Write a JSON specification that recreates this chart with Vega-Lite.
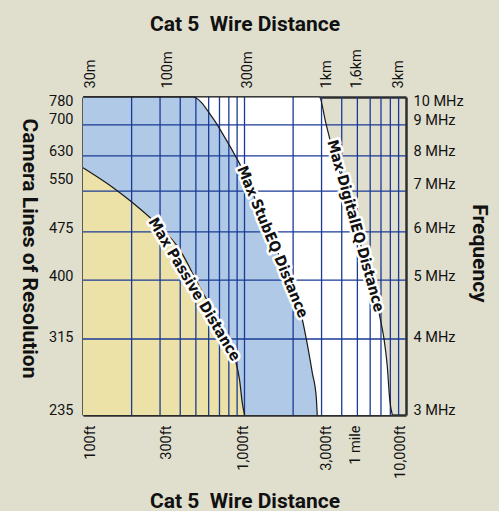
{
  "$schema": "https://vega.github.io/schema/vega-lite/v6.json",
  "autosize": {"type": "none"},
  "width": 323,
  "height": 318,
  "padding": {"left": 83, "top": 97, "right": 93, "bottom": 96},
  "background": "#e0dfce",
  "config": {
    "view": {"fill": "#e0dfce", "stroke": null},
    "axis": {
      "zindex": 1,
      "grid": false,
      "ticks": false,
      "tickSize": 0,
      "domain": true,
      "domainColor": "#2e2e2e",
      "domainWidth": 2.5,
      "labelFont": "Roboto, sans-serif",
      "labelFontSize": 14.5,
      "labelColor": "#111111",
      "labelOverlap": false,
      "labelBound": false,
      "labelFlush": false,
      "titleFont": "Roboto, sans-serif",
      "titleFontSize": 21,
      "titleFontWeight": "bold",
      "titleColor": "#111111"
    }
  },
  "datasets": {
    "curves": [
      {"curve": "Digital", "dist": 100, "freq": 10},
      {"curve": "Digital", "dist": 2904, "freq": 10},
      {"curve": "Digital", "dist": 3192, "freq": 9.05},
      {"curve": "Digital", "dist": 3550, "freq": 8.1},
      {"curve": "Digital", "dist": 4246, "freq": 7.03},
      {"curve": "Digital", "dist": 4892, "freq": 6.12},
      {"curve": "Digital", "dist": 5638, "freq": 5.33},
      {"curve": "Digital", "dist": 6501, "freq": 4.67},
      {"curve": "Digital", "dist": 7013, "freq": 4.25},
      {"curve": "Digital", "dist": 7311, "freq": 4.0},
      {"curve": "Digital", "dist": 7650, "freq": 3.62},
      {"curve": "Digital", "dist": 7930, "freq": 3.18},
      {"curve": "Digital", "dist": 8230, "freq": 3.0},
      {"curve": "Stub", "dist": 100, "freq": 10},
      {"curve": "Stub", "dist": 477, "freq": 10},
      {"curve": "Stub", "dist": 637, "freq": 9.23},
      {"curve": "Stub", "dist": 771, "freq": 8.5},
      {"curve": "Stub", "dist": 892, "freq": 7.94},
      {"curve": "Stub", "dist": 1024, "freq": 7.4},
      {"curve": "Stub", "dist": 1238, "freq": 6.52},
      {"curve": "Stub", "dist": 1495, "freq": 5.82},
      {"curve": "Stub", "dist": 1809, "freq": 5.13},
      {"curve": "Stub", "dist": 2185, "freq": 4.52},
      {"curve": "Stub", "dist": 2415, "freq": 4.0},
      {"curve": "Stub", "dist": 2630, "freq": 3.52},
      {"curve": "Stub", "dist": 2782, "freq": 3.21},
      {"curve": "Stub", "dist": 2820, "freq": 3.0},
      {"curve": "Passive", "dist": 100, "freq": 7.65},
      {"curve": "Passive", "dist": 153, "freq": 7.1},
      {"curve": "Passive", "dist": 203, "freq": 6.7},
      {"curve": "Passive", "dist": 278, "freq": 6.23},
      {"curve": "Passive", "dist": 397, "freq": 5.61},
      {"curve": "Passive", "dist": 527, "freq": 4.87},
      {"curve": "Passive", "dist": 701, "freq": 4.25},
      {"curve": "Passive", "dist": 867, "freq": 3.74},
      {"curve": "Passive", "dist": 933, "freq": 3.42},
      {"curve": "Passive", "dist": 969, "freq": 3.14},
      {"curve": "Passive", "dist": 1000, "freq": 3.0}
    ],
    "vgrid": [
      {"g": 200}, {"g": 300}, {"g": 400}, {"g": 500}, {"g": 600}, {"g": 700}, {"g": 800}, {"g": 900},
      {"g": 1000}, {"g": 2000}, {"g": 3000}, {"g": 4000}, {"g": 5000}, {"g": 6000}, {"g": 7000}, {"g": 8000}, {"g": 9000}
    ],
    "hgrid": [
      {"g": 4}, {"g": 5}, {"g": 6}, {"g": 7}, {"g": 8}, {"g": 9}
    ],
    "labels": [
      {"curve": "Passive", "label": "Max Passive Distance", "dist": 491, "freq": 4.83},
      {"curve": "Stub", "label": "Max StubEQ Distance", "dist": 1495, "freq": 5.78},
      {"curve": "Digital", "label": "Max DigitalEQ Distance", "dist": 4892, "freq": 6.14}
    ]
  },
  "resolve": {"axis": {"x": "independent", "y": "independent"}},
  "layer": [
    {
      "data": {"name": "curves"},
      "transform": [{"filter": "datum.curve == 'Digital'"}],
      "mark": {"type": "area", "color": "#ffffff", "interpolate": "monotone"},
      "encoding": {
        "x": {"field": "dist", "type": "quantitative",
          "scale": {"type": "log", "domain": [100, 10000], "nice": false},
          "axis": {
            "orient": "bottom",
            "values": [100, 300, 1000, 3000, 5280, 10000],
            "labelExpr": "datum.value == 100 ? '100ft' : datum.value == 300 ? '300ft' : datum.value == 1000 ? '1,000ft' : datum.value == 3000 ? '3,000ft' : datum.value == 5280 ? '1 mile' : '10,000ft'",
            "labelAngle": -90,
            "labelPadding": 10,
            "labelOffset": {"condition": [
              {"test": "datum.value == 100", "value": 7},
              {"test": "datum.value == 300", "value": 6},
              {"test": "datum.value == 3000", "value": 5},
              {"test": "datum.value == 5280", "value": -6},
              {"test": "datum.value == 10000", "value": -6}
            ], "value": -1},
            "title": "Cat 5\u00a0 Wire Distance",
            "titleBaseline": "alphabetic",
            "titleY": 92
          }
        },
        "y": {"field": "freq", "type": "quantitative",
          "scale": {"type": "log", "domain": [3, 10], "nice": false},
          "axis": {
            "orient": "left",
            "values": [3, 4, 5, 6, 7, 8, 9, 10],
            "labelExpr": "datum.value == 3 ? '235' : datum.value == 4 ? '315' : datum.value == 5 ? '400' : datum.value == 6 ? '475' : datum.value == 7 ? '550' : datum.value == 8 ? '630' : datum.value == 9 ? '700' : '780'",
            "labelPadding": 10,
            "labelOffset": {"condition": [
              {"test": "datum.value == 10", "value": 4},
              {"test": "datum.value == 9", "value": -5},
              {"test": "datum.value == 7", "value": -12},
              {"test": "datum.value == 6", "value": -3},
              {"test": "datum.value == 4", "value": -2},
              {"test": "datum.value == 3", "value": -5}
            ], "value": -4},
            "title": "Camera Lines of Resolution",
            "titleAngle": 90,
            "titleBaseline": "alphabetic",
            "titleAlign": "center",
            "titleX": -61,
            "titleY": 151
          }
        },
        "y2": {"datum": 3}
      }
    },
    {
      "data": {"name": "curves"},
      "transform": [{"filter": "datum.curve == 'Stub'"}],
      "mark": {"type": "area", "color": "#afc9e7", "interpolate": "monotone"},
      "encoding": {
        "x": {"field": "dist", "type": "quantitative",
          "scale": {"type": "log", "domain": [100, 10000], "nice": false},
          "axis": {
            "orient": "top",
            "values": [100, 328.08, 984.25, 3280.84, 5249.34, 9842.52],
            "labelExpr": "datum.value < 200 ? '30m' : datum.value < 500 ? '100m' : datum.value < 2000 ? '300m' : datum.value < 4000 ? '1km' : datum.value < 7000 ? '1,6km' : '3km'",
            "labelAngle": -90,
            "labelPadding": 9,
            "labelOffset": {"condition": [
              {"test": "datum.value < 200", "value": 7},
              {"test": "datum.value < 500", "value": 1},
              {"test": "datum.value < 2000", "value": 4},
              {"test": "datum.value < 4000", "value": -1},
              {"test": "datum.value < 7000", "value": -4}
            ], "value": -6},
            "title": "Cat 5\u00a0 Wire Distance",
            "titleBaseline": "alphabetic",
            "titleY": -67
          }
        },
        "y": {"field": "freq", "type": "quantitative",
          "scale": {"type": "log", "domain": [3, 10], "nice": false},
          "axis": {
            "orient": "right",
            "values": [3, 4, 5, 6, 7, 8, 9, 10],
            "labelExpr": "datum.value + ' MHz'",
            "labelPadding": 7,
            "labelOffset": {"condition": [
              {"test": "datum.value == 10", "value": 4},
              {"test": "datum.value == 7", "value": -7},
              {"test": "datum.value == 6", "value": -3},
              {"test": "datum.value == 4", "value": -2},
              {"test": "datum.value == 3", "value": -5}
            ], "value": -4},
            "title": "Frequency",
            "titleAngle": 90,
            "titleBaseline": "alphabetic",
            "titleAlign": "center",
            "titleX": 66,
            "titleY": 156
          }
        },
        "y2": {"datum": 3}
      }
    },
    {
      "data": {"name": "curves"},
      "transform": [{"filter": "datum.curve == 'Passive'"}],
      "mark": {"type": "area", "color": "#ece1a7", "interpolate": "monotone"},
      "encoding": {
        "x": {"field": "dist", "type": "quantitative", "scale": {"type": "log", "domain": [100, 10000], "nice": false}, "axis": null},
        "y": {"field": "freq", "type": "quantitative", "scale": {"type": "log", "domain": [3, 10], "nice": false}, "axis": null},
        "y2": {"datum": 3}
      }
    },
    {
      "data": {"name": "vgrid"},
      "mark": {"type": "rule", "color": "#1a3a96", "strokeWidth": 1.3},
      "encoding": {
        "x": {"field": "g", "type": "quantitative", "scale": {"type": "log", "domain": [100, 10000], "nice": false}, "axis": null}
      }
    },
    {
      "data": {"name": "hgrid"},
      "mark": {"type": "rule", "color": "#1a3a96", "strokeWidth": 1.3},
      "encoding": {
        "y": {"field": "g", "type": "quantitative", "scale": {"type": "log", "domain": [3, 10], "nice": false}, "axis": null}
      }
    },
    {
      "data": {"name": "curves"},
      "mark": {"type": "line", "color": "#1a1a1a", "strokeWidth": 1.2, "interpolate": "monotone"},
      "encoding": {
        "x": {"field": "dist", "type": "quantitative", "scale": {"type": "log", "domain": [100, 10000], "nice": false}, "axis": null},
        "y": {"field": "freq", "type": "quantitative", "scale": {"type": "log", "domain": [3, 10], "nice": false}, "axis": null},
        "detail": {"field": "curve"}
      }
    },
    {
      "data": {"name": "labels"},
      "transform": [{"filter": "datum.curve == 'Passive'"}],
      "mark": {"type": "text", "angle": 59, "font": "DejaVu Sans Condensed, sans-serif", "fontSize": 15, "fontWeight": "bold", "fill": "white", "stroke": "white", "strokeWidth": 5, "strokeJoin": "round"},
      "encoding": {
        "x": {"field": "dist", "type": "quantitative", "scale": {"type": "log", "domain": [100, 10000], "nice": false}, "axis": null},
        "y": {"field": "freq", "type": "quantitative", "scale": {"type": "log", "domain": [3, 10], "nice": false}, "axis": null},
        "text": {"field": "label"}
      }
    },
    {
      "data": {"name": "labels"},
      "transform": [{"filter": "datum.curve == 'Passive'"}],
      "mark": {"type": "text", "angle": 59, "font": "DejaVu Sans Condensed, sans-serif", "fontSize": 15, "fontWeight": "bold", "fill": "#111111"},
      "encoding": {
        "x": {"field": "dist", "type": "quantitative", "scale": {"type": "log", "domain": [100, 10000], "nice": false}, "axis": null},
        "y": {"field": "freq", "type": "quantitative", "scale": {"type": "log", "domain": [3, 10], "nice": false}, "axis": null},
        "text": {"field": "label"}
      }
    },
    {
      "data": {"name": "labels"},
      "transform": [{"filter": "datum.curve == 'Stub'"}],
      "mark": {"type": "text", "angle": 67.5, "font": "DejaVu Sans Condensed, sans-serif", "fontSize": 15, "fontWeight": "bold", "fill": "white", "stroke": "white", "strokeWidth": 5, "strokeJoin": "round"},
      "encoding": {
        "x": {"field": "dist", "type": "quantitative", "scale": {"type": "log", "domain": [100, 10000], "nice": false}, "axis": null},
        "y": {"field": "freq", "type": "quantitative", "scale": {"type": "log", "domain": [3, 10], "nice": false}, "axis": null},
        "text": {"field": "label"}
      }
    },
    {
      "data": {"name": "labels"},
      "transform": [{"filter": "datum.curve == 'Stub'"}],
      "mark": {"type": "text", "angle": 67.5, "font": "DejaVu Sans Condensed, sans-serif", "fontSize": 15, "fontWeight": "bold", "fill": "#111111"},
      "encoding": {
        "x": {"field": "dist", "type": "quantitative", "scale": {"type": "log", "domain": [100, 10000], "nice": false}, "axis": null},
        "y": {"field": "freq", "type": "quantitative", "scale": {"type": "log", "domain": [3, 10], "nice": false}, "axis": null},
        "text": {"field": "label"}
      }
    },
    {
      "data": {"name": "labels"},
      "transform": [{"filter": "datum.curve == 'Digital'"}],
      "mark": {"type": "text", "angle": 74.5, "font": "DejaVu Sans Condensed, sans-serif", "fontSize": 15, "fontWeight": "bold", "fill": "white", "stroke": "white", "strokeWidth": 5, "strokeJoin": "round"},
      "encoding": {
        "x": {"field": "dist", "type": "quantitative", "scale": {"type": "log", "domain": [100, 10000], "nice": false}, "axis": null},
        "y": {"field": "freq", "type": "quantitative", "scale": {"type": "log", "domain": [3, 10], "nice": false}, "axis": null},
        "text": {"field": "label"}
      }
    },
    {
      "data": {"name": "labels"},
      "transform": [{"filter": "datum.curve == 'Digital'"}],
      "mark": {"type": "text", "angle": 74.5, "font": "DejaVu Sans Condensed, sans-serif", "fontSize": 15, "fontWeight": "bold", "fill": "#111111"},
      "encoding": {
        "x": {"field": "dist", "type": "quantitative", "scale": {"type": "log", "domain": [100, 10000], "nice": false}, "axis": null},
        "y": {"field": "freq", "type": "quantitative", "scale": {"type": "log", "domain": [3, 10], "nice": false}, "axis": null},
        "text": {"field": "label"}
      }
    }
  ]
}
